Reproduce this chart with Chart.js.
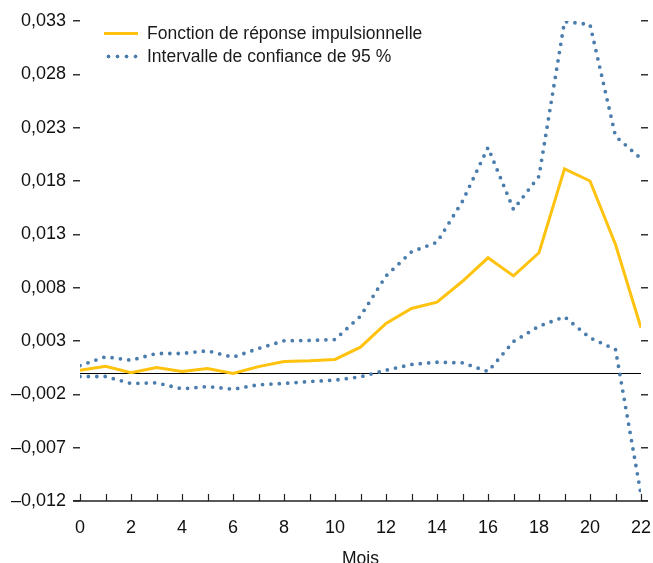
<!DOCTYPE html>
<html>
<head>
<meta charset="utf-8">
<script src="https://cdn.jsdelivr.net/npm/chart.js@4.4.0/dist/chart.umd.min.js"></script>
<style>
html, body { margin: 0; padding: 0; background: #fff; }
#wrap { position: relative; width: 653px; height: 563px; }
#legend { position: absolute; left: 104px; top: 22px; font-family: 'Liberation Sans', Arial, sans-serif; font-size: 17.5px; color: #1a1a1a; }
.row { display: flex; align-items: center; height: 23px; }
.solid { width: 34px; height: 3px; background: #FFC20E; margin-right: 9px; }
.dots { width: 34px; height: 5px; margin-right: 9px; background-image: radial-gradient(circle, #4A7DAC 1.7px, transparent 2.2px); background-size: 9px 5px; }
</style>
</head>
<body>
<div id="wrap">
  <canvas id="graphique" width="653" height="563"></canvas>
  <div id="legend">
    <div class="row"><span class="solid"></span>Fonction de réponse impulsionnelle</div>
    <div class="row"><span class="dots"></span>Intervalle de confiance de 95 %</div>
  </div>
</div>
<script>
// Donnees
var mois = [0, 1, 2, 3, 4, 5, 6, 7, 8, 9, 10, 11, 12, 13, 14, 15, 16, 17, 18, 19, 20, 21, 22];
var reponse = [0.00026, 0.00064, 0.00002, 0.00052, 0.00014, 0.00042, -0.00005, 0.0006, 0.00108, 0.00114, 0.00127,
               0.00242, 0.00464, 0.00605, 0.00664, 0.0086, 0.0108, 0.0091, 0.01127, 0.01914, 0.0180, 0.01205, 0.00424];
var borneHaute = [0.0007, 0.00152, 0.0012, 0.00183, 0.00183, 0.00208, 0.00148, 0.0023, 0.00302, 0.00305, 0.00314,
                  0.00533, 0.0091, 0.01136, 0.01226, 0.0161, 0.02114, 0.01533, 0.01845, 0.03295, 0.03267, 0.0222, 0.0201];
var borneBasse = [-0.00033, -0.00033, -0.00098, -0.00092, -0.00148, -0.00127, -0.00152, -0.0011, -0.00098, -0.0008, -0.00067,
                  -0.00036, 0.00026, 0.0008, 0.00101, 0.00095, 0.00014, 0.00295, 0.00439, 0.00527, 0.0033, 0.0022, -0.0114];
var xTicks = [0, 2, 4, 6, 8, 10, 12, 14, 16, 18, 20, 22];
var yTicks = [-0.012, -0.007, -0.002, 0.003, 0.008, 0.013, 0.018, 0.023, 0.028, 0.033];

var police = "'Liberation Sans', Arial, sans-serif";
var jaune = '#FFC20E';
var bleu = '#4A7DAC';

function points(serie) {
    return mois.map(function (m, i) { return {x: m, y: serie[i]}; });
}

function format(v) {
    var s = Math.abs(v).toFixed(3).replace('.', ',');
    return v < -1e-9 ? '\u2013' + s : s;
}

// ligne du zero, sous les courbes
var ligneZero = {
    id: 'ligneZero',
    beforeDatasetsDraw: function (chart) {
        var ctx = chart.ctx, a = chart.chartArea;
        var py = Math.round(chart.scales.y.getPixelForValue(0)) + 0.5;
        ctx.save();
        ctx.strokeStyle = '#000';
        ctx.lineWidth = 1;
        ctx.beginPath();
        ctx.moveTo(a.left, py);
        ctx.lineTo(a.right, py);
        ctx.stroke();
        ctx.restore();
    }
};

// Axe des x avec graduations vers l'interieur
var axeX = {
    id: 'axeX',
    afterDraw: function (chart) {
        var ctx = chart.ctx, sx = chart.scales.x, a = chart.chartArea;
        var base = Math.round(a.bottom);
        ctx.save();
        ctx.strokeStyle = '#222';
        ctx.lineWidth = 1.5;
        ctx.beginPath();
        ctx.moveTo(a.left - 7, base);
        ctx.lineTo(a.right + 7, base);
        ctx.stroke();
        ctx.lineWidth = 1.2;
        ctx.beginPath();
        mois.forEach(function (m) {
            var px = Math.round(sx.getPixelForValue(m)) + 0.5;
            ctx.moveTo(px, base);
            ctx.lineTo(px, base - 7);
        });
        ctx.stroke();
        ctx.restore();
    }
};

var axeY = {
    min: -0.012,
    max: 0.033,
    afterBuildTicks: function (s) { s.ticks = yTicks.map(function (v) { return {value: v}; }); },
    border: {display: false},
    grid: {drawOnChartArea: false, drawTicks: true, tickLength: 7, color: '#333', lineWidth: 1.5}
};

var graphique = new Chart(document.getElementById('graphique'), {
    type: 'line',
    data: {
        datasets: [{
            label: 'Fonction de réponse impulsionnelle',
            data: points(reponse),
            borderColor: jaune,
            borderWidth: 3,
            pointRadius: 0,
            tension: 0
        }, {
            label: 'Intervalle de confiance de 95 %',
            data: points(borneHaute),
            borderColor: bleu,
            borderWidth: 3.8,
            borderDash: [0, 8.4],
            borderCapStyle: 'round',
            pointRadius: 0,
            tension: 0
        }, {
            label: 'borne basse',
            data: points(borneBasse),
            borderColor: bleu,
            borderWidth: 3.8,
            borderDash: [0, 8.4],
            borderCapStyle: 'round',
            pointRadius: 0,
            tension: 0
        }]
    },
    options: {
        responsive: false,
        animation: false,
        layout: {padding: {top: 21, right: 0, left: 0, bottom: 0}},
        plugins: {legend: {display: false}, tooltip: {enabled: false}},
        scales: {
            x: {
                type: 'linear',
                min: 0,
                max: 22,
                afterBuildTicks: function (s) { s.ticks = xTicks.map(function (v) { return {value: v}; }); },
                afterFit: function (s) { s.height = 62; },
                border: {display: false},
                grid: {display: false, drawTicks: true, tickLength: 16},
                ticks: {font: {family: police, size: 18}, color: '#111', padding: 0, maxRotation: 0, autoSkip: false},
                title: {display: true, text: 'Mois', font: {family: police, size: 17.5, lineHeight: 0.6}, color: '#111', padding: {top: 0, bottom: -1}}
            },
            y: Object.assign({}, axeY, {
                position: 'left',
                afterFit: function (s) { s.width = 80; },
                ticks: {font: {family: police, size: 18}, color: '#111', padding: 7, callback: format}
            }),
            y2: Object.assign({}, axeY, {
                position: 'right',
                afterFit: function (s) { s.width = 12; },
                ticks: {padding: 0, callback: function () { return ''; }}
            })
        }
    },
    plugins: [ligneZero, axeX]
});
</script>
</body>
</html>
